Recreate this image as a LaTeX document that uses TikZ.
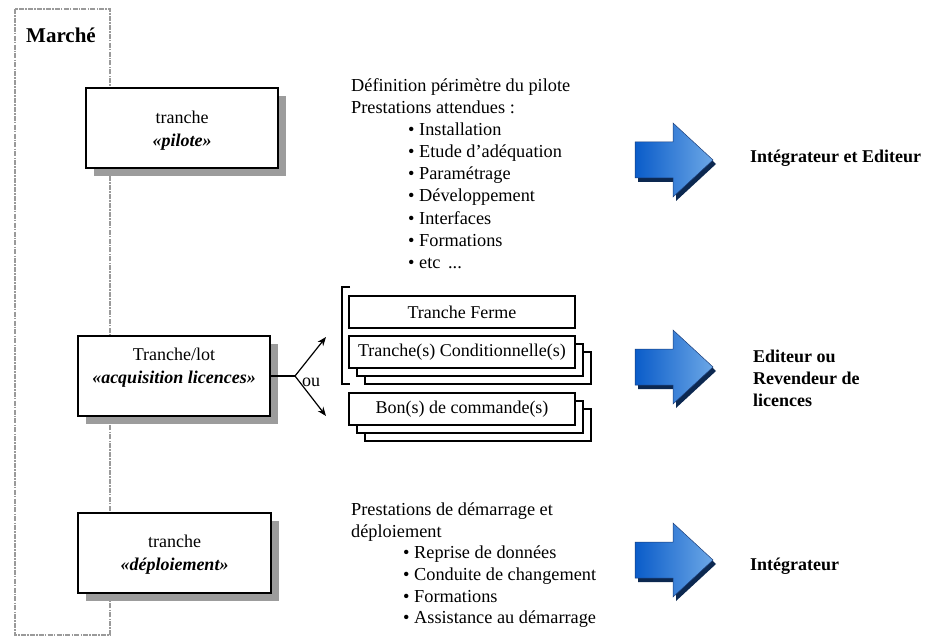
\documentclass[tikz,border=0pt]{standalone}
\usepackage{fontspec}
\setmainfont{Liberation Serif}
\usetikzlibrary{arrows.meta,shadows}

\definecolor{framegray}{HTML}{9A9A9A}
\definecolor{shadowgray}{HTML}{9C9C9C}
\definecolor{arrowdark}{HTML}{0A5CC9}
\definecolor{arrowlight}{HTML}{6CA7E6}
\definecolor{arrowshadow}{HTML}{0C2850}
\definecolor{arrowedge}{HTML}{1A3C78}

\begin{document}
\begin{tikzpicture}[x=1pt,y=-1pt,
  body/.style={font=\fontsize{18.3}{22}\selectfont, inner sep=0pt, anchor=base west},
  who/.style={font=\fontsize{18}{22}\selectfont\bfseries, inner sep=0pt, anchor=base west, align=left},
  phase/.style={draw=black, line width=1.4pt, fill=white, inner sep=0pt,
    minimum width=192pt, minimum height=80pt,
    drop shadow={shadow xshift=8pt, shadow yshift=-8pt, fill=shadowgray, opacity=1}},
  phasetext/.style={font=\fontsize{18}{23}\selectfont, align=center, inner sep=0pt},
  sheet/.style={draw=black, line width=1.1pt, fill=white, inner sep=0pt,
    minimum width=226pt, minimum height=32pt, font=\fontsize{18}{22}\selectfont},
  fork/.style={line width=1.2pt, -{Stealth[length=9pt,width=7pt]}},
  bluearrow/.pic={
    \fill[arrowshadow, shift={(3,4)}] (0,-18) -- (38,-18) -- (38,-37) -- (78,0)
      -- (38,37) -- (38,18) -- (0,18) -- cycle;
    \path[left color=arrowdark, right color=arrowlight, draw=arrowedge, line width=0.5pt]
      (0,-18) -- (38,-18) -- (38,-37) -- (78,0) -- (38,37) -- (38,18) -- (0,18) -- cycle;
  }
]
\useasboundingbox (0,0) rectangle (934,639);

% market frame
\draw[framegray, line width=1.3pt, dash pattern=on 5pt off 1.2pt on 1.5pt off 1.2pt]
  (15,9) rectangle (110,635);
\node[font=\fontsize{21}{24}\selectfont\bfseries, inner sep=0pt, anchor=west] (marche) at (26,35) {Marché};

% the three phases
\node[phase] (pilote) at (182,128) {};
\node[phasetext] (pilotetxt) at (182,131) {tranche\\\textbf{\textit{«pilote»}}};

\node[phase] (acq) at (174,376) {};
\node[phasetext] (acqtxt) at (174,368) {Tranche/lot\\\textbf{\textit{«acquisition licences»}}};

\node[phase, minimum width=193pt] (deploi) at (174.5,553) {};
\node[phasetext] (deploitxt) at (174.5,555) {tranche\\\textbf{\textit{«déploiement»}}};

% pilot services
\node[body] (p0) at (351,92) {Définition périmètre du pilote};
\node[body] (p1) at (351,114) {Prestations attendues :};
\node[body] (p2) at (408,136) {• Installation};
\node[body] (p3) at (408,158) {• Etude d’adéquation};
\node[body] (p4) at (408,180) {• Paramétrage};
\node[body] (p5) at (408,202) {• Développement};
\node[body] (p6) at (408,224) {• Interfaces};
\node[body] (p7) at (408,246) {• Formations};
\node[body] (p8) at (408,268) {• etc \,...};

% licence purchase options
\draw[line width=1.1pt] (350,287) -- (342,287) -- (342,384) -- (350,384);
\node[sheet] (ferme) at (462,312) {Tranche Ferme};
\node[sheet] (cond3) at (478,368) {};
\node[sheet] (cond2) at (470,360) {};
\node[sheet] (cond) at (462,352) {Tranche(s) Conditionnelle(s)};
\node[sheet] (bon3) at (478,425) {};
\node[sheet] (bon2) at (470,417) {};
\node[sheet] (bon) at (462,409) {Bon(s) de commande(s)};

\coordinate (split) at (295,376);
\coordinate (upend) at (326,337);
\coordinate (downend) at (326,416);
\draw[line width=1.2pt] (acq.east) -- (split);
\draw[fork] (split) -- (upend);
\draw[fork] (split) -- (downend);
\node[font=\fontsize{18}{22}\selectfont, inner sep=0pt] (ou) at (311,382) {ou};

% deployment services
\node[body] (d0) at (351,515) {Prestations de démarrage et};
\node[body] (d1) at (351,537) {déploiement};
\node[body] (d2) at (403,558) {• Reprise de données};
\node[body] (d3) at (403,580) {• Conduite de changement};
\node[body] (d4) at (403,602) {• Formations};
\node[body] (d5) at (403,623) {• Assistance au démarrage};

% providers
\pic at (635,160) {bluearrow};
\pic at (635,367) {bluearrow};
\pic at (635,560) {bluearrow};

\node[who] (w1) at (750,163) {Intégrateur et Editeur};
\node[who] (w2) at (753,406) {Editeur ou\\Revendeur de\\licences};
\node[who] (w3) at (750,570) {Intégrateur};
\end{tikzpicture}
\end{document}
